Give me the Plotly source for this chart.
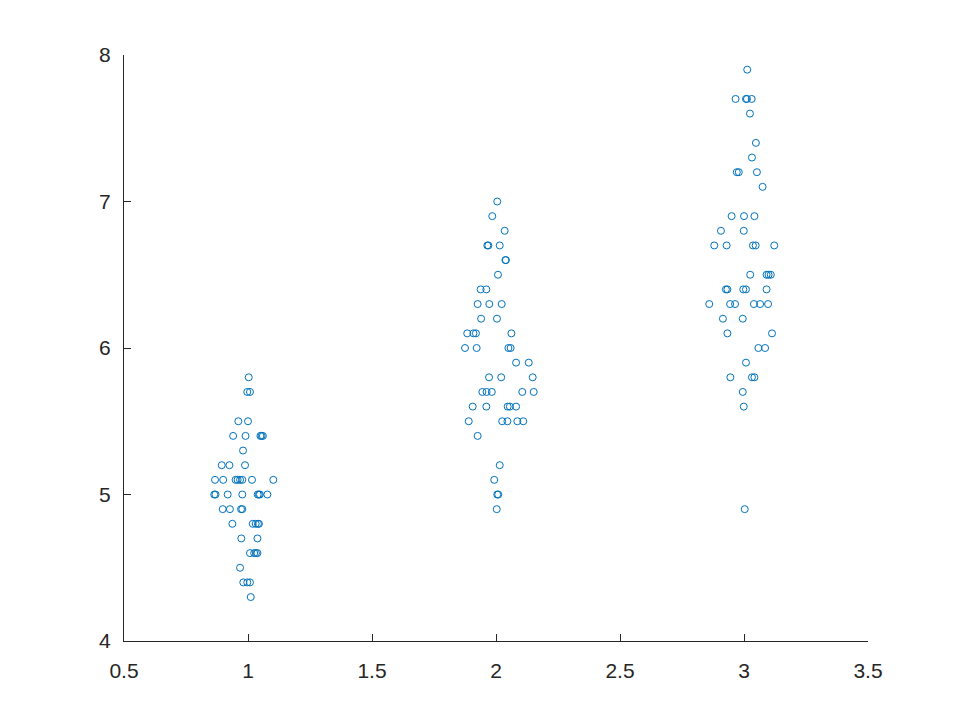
import plotly.graph_objects as go

# Group 1 (setosa)
x1 = [1.003, 0.997, 1.008, 0.961, 1.0,
      0.94, 0.99, 1.05, 1.055, 1.06,
      0.98,
      0.894, 0.925, 0.988,
      0.867, 0.900, 0.950, 0.958, 0.968, 0.977, 1.016, 1.102,
      0.864, 0.869, 0.918, 0.977, 1.039, 1.044, 1.048, 1.078,
      0.898, 0.927, 0.972, 0.977,
      0.937, 1.019, 1.031, 1.044, 1.040,
      0.973, 1.038,
      1.008, 1.025, 1.032, 1.038,
      0.968,
      0.981, 0.997, 1.008,
      1.011]
y1 = [5.8, 5.7, 5.7, 5.5, 5.5,
      5.4, 5.4, 5.4, 5.4, 5.4,
      5.3,
      5.2, 5.2, 5.2,
      5.1, 5.1, 5.1, 5.1, 5.1, 5.1, 5.1, 5.1,
      5.0, 5.0, 5.0, 5.0, 5.0, 5.0, 5.0, 5.0,
      4.9, 4.9, 4.9, 4.9,
      4.8, 4.8, 4.8, 4.8, 4.8,
      4.7, 4.7,
      4.6, 4.6, 4.6, 4.6,
      4.5,
      4.4, 4.4, 4.4,
      4.3]

# Group 2 (versicolor)
x2 = [2.005, 1.985, 2.035,
      1.965, 1.969, 2.015,
      2.038, 2.040,
      2.008,
      1.938, 1.961,
      1.926, 1.973, 2.023,
      1.940, 2.004,
      1.884, 1.909, 1.919, 2.062,
      1.875, 1.922, 2.050, 2.059,
      2.081, 2.132,
      1.972, 2.021, 2.148,
      1.945, 1.962, 1.983, 2.106, 2.152,
      1.906, 1.961, 2.047, 2.056, 2.081,
      1.890, 2.025, 2.046, 2.086, 2.110,
      1.926,
      2.015,
      1.993,
      2.005, 2.009,
      2.003]
y2 = [7.0, 6.9, 6.8,
      6.7, 6.7, 6.7,
      6.6, 6.6,
      6.5,
      6.4, 6.4,
      6.3, 6.3, 6.3,
      6.2, 6.2,
      6.1, 6.1, 6.1, 6.1,
      6.0, 6.0, 6.0, 6.0,
      5.9, 5.9,
      5.8, 5.8, 5.8,
      5.7, 5.7, 5.7, 5.7, 5.7,
      5.6, 5.6, 5.6, 5.6, 5.6,
      5.5, 5.5, 5.5, 5.5, 5.5,
      5.4,
      5.2,
      5.1,
      5.0, 5.0,
      4.9]

# Group 3 (virginica)
x3 = [3.013,
      2.966, 3.008, 3.012, 3.031,
      3.024,
      3.048,
      3.032,
      2.971, 2.979, 3.052,
      3.075,
      2.950, 3.000, 3.042,
      2.907, 2.999,
      2.880, 2.930, 3.036, 3.047, 3.122,
      3.025, 3.091, 3.099, 3.108,
      2.927, 2.933, 2.997, 3.008, 3.091,
      2.860, 2.944, 2.964, 3.040, 3.065, 3.097,
      2.915, 2.995,
      2.933, 3.113,
      3.058, 3.085,
      3.008,
      2.945, 3.032, 3.042,
      2.995,
      2.999,
      3.003]
y3 = [7.9,
      7.7, 7.7, 7.7, 7.7,
      7.6,
      7.4,
      7.3,
      7.2, 7.2, 7.2,
      7.1,
      6.9, 6.9, 6.9,
      6.8, 6.8,
      6.7, 6.7, 6.7, 6.7, 6.7,
      6.5, 6.5, 6.5, 6.5,
      6.4, 6.4, 6.4, 6.4, 6.4,
      6.3, 6.3, 6.3, 6.3, 6.3, 6.3,
      6.2, 6.2,
      6.1, 6.1,
      6.0, 6.0,
      5.9,
      5.8, 5.8, 5.8,
      5.7,
      5.6,
      4.9]

xticks = [0.5, 1, 1.5, 2, 2.5, 3, 3.5]
xticklabels = ["0.5", "1", "1.5", "2", "2.5", "3", "3.5"]
yticks = [4, 5, 6, 7, 8]
yticklabels = ["4", "5", "6", "7", "8"]

color = "#0072BD"
fig = go.Figure()
fig.add_trace(go.Scatter(
    x=x1 + x2 + x3, y=y1 + y2 + y3, mode="markers",
    marker=dict(symbol="circle-open", size=7, color=color, line=dict(width=1, color=color)),
    showlegend=False,
))

axis_common = dict(showgrid=False, zeroline=False, showline=True, linecolor="#262626",
                   linewidth=1, ticks="inside", ticklen=7, tickcolor="#262626",
                   tickfont=dict(family="Liberation Sans, Arial, sans-serif", size=21, color="#262626"))
fig.update_layout(
    width=960, height=720,
    paper_bgcolor="white", plot_bgcolor="white",
    margin=dict(l=116, r=100, t=47, b=87),
    xaxis=dict(range=[0.5, 3.5], tickvals=xticks, ticktext=xticklabels,
               ticklabelstandoff=11, **axis_common),
    yaxis=dict(range=[4, 8], tickvals=yticks, ticktext=yticklabels,
               ticklabelstandoff=8, **axis_common),
)
fig.write_html("out.html")
